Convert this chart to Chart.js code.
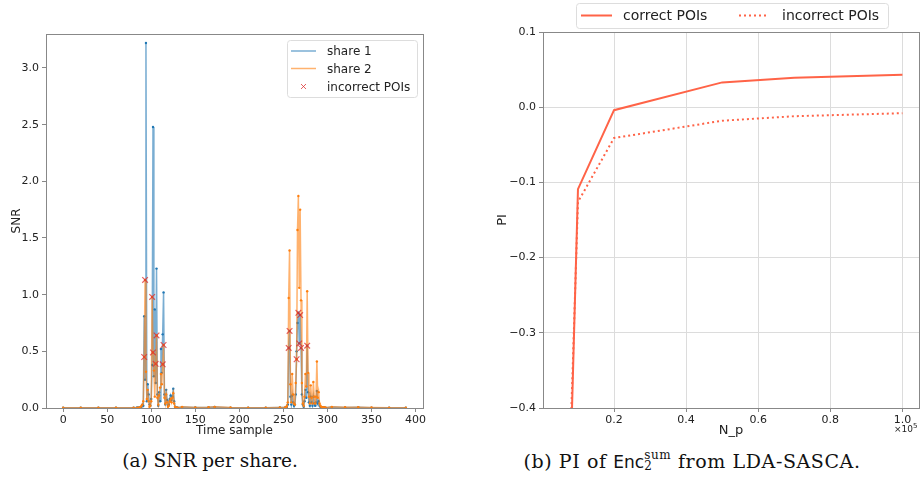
<!DOCTYPE html>
<html>
<head>
<meta charset="utf-8">
<script src="https://cdn.jsdelivr.net/npm/chart.js@4.4.0/dist/chart.umd.min.js"></script>
<style>
  body { margin: 0; width: 923px; height: 485px; background: #fff; overflow: hidden; position: relative; }
  canvas { position: absolute; top: 0; }
  #snr { left: 0; }
  #pi { left: 460px; }
  .cap { position: absolute; top: 450px; font-family: "DejaVu Serif", serif; font-size: 18.5px; color: #111; white-space: nowrap; transform: translateX(-50%); }
  .capb { font-size: 19px; letter-spacing: 0.6px; }
  .enc { font-family: "DejaVu Sans", sans-serif; font-size: 17px; letter-spacing: 0; }
  .ss { display: inline-block; vertical-align: middle; line-height: 11px; font-size: 12px; margin-top: -4px; }
</style>
</head>
<body>
<canvas id="snr" width="460" height="445"></canvas>
<canvas id="pi" width="463" height="445"></canvas>
<div class="cap" style="left:210px">(a) SNR per share.</div>
<div class="cap capb" style="left:692px">(b) PI of <span class="enc">Enc</span><span class="ss">sum<br>2</span> from LDA-SASCA.</div>
<script>
// ---- left: SNR per share ----
const timeSamples = [0, 20, 40, 60, 80, 84,
  86, 87, 88, 89, 90, 91, 92, 93, 94, 95, 96, 97, 98, 99, 100, 101, 102, 103, 104, 105, 106, 107, 108,
  109, 110, 111, 112, 113, 114, 115, 116, 117, 118, 119, 120, 121, 122, 123, 124, 125, 126, 127, 128, 129, 130,
  135, 150, 165, 172, 190, 210, 230, 246,
  252, 253, 254, 255, 256, 257, 258, 259, 260, 261, 262, 263, 264, 265, 266, 267, 268, 269, 270, 271, 272,
  273, 274, 275, 276, 277, 278, 279, 280, 281, 282, 283, 284, 285, 286, 287, 288, 289, 290, 291, 292, 293,
  294, 295, 296, 297, 298,
  305, 320, 335, 350, 370, 389];
const share1 = [0.002, 0.002, 0.002, 0.003, 0.003, 0.004,
  0.004, 0.003, 0.006, 0.01, 0.03, 0.02, 0.81, 0.25, 3.22, 0.06, 0.21, 0.12, 0.03, 0.02, 0.08, 0.38, 2.48, 0.28, 0.87, 0.22, 1.23, 0.12, 0.02,
  0.14, 0.06, 0.52, 0.31, 0.65, 1.02, 0.12, 0.03, 0.16, 0.07, 0.02, 0.03, 0.08, 0.11, 0.07, 0.1, 0.17, 0.06, 0.01, 0.005, 0.004, 0.003,
  0.008, 0.004, 0.006, 0.009, 0.003, 0.002, 0.003, 0.004,
  0.004, 0.006, 0.01, 0.03, 0.53, 0.68, 0.1, 0.03, 0.11, 0.05, 0.02, 0.03, 0.12, 0.5, 0.75, 0.84, 0.57, 0.82, 0.53, 0.12, 0.03,
  0.01, 0.06, 0.16, 0.09, 0.55, 0.14, 0.05, 0.02, 0.1, 0.05, 0.02, 0.1, 0.04, 0.02, 0.05, 0.15, 0.04, 0.06, 0.02, 0.01, 0.005,
  0.004, 0.003, 0.004, 0.003, 0.003,
  0.008, 0.005, 0.006, 0.003, 0.002, 0.002];
const share2 = [0.002, 0.002, 0.003, 0.002, 0.003, 0.003,
  0.003, 0.004, 0.01, 0.02, 0.03, 0.06, 0.45, 1.13, 0.32, 0.08, 0.16, 0.06, 0.01, 0.02, 0.06, 0.98, 0.49, 0.33, 0.1, 0.39, 0.64, 0.09, 0.03,
  0.11, 0.18, 0.3, 0.21, 0.385, 0.556, 0.09, 0.04, 0.12, 0.05, 0.01, 0.02, 0.06, 0.08, 0.05, 0.09, 0.13, 0.04, 0.01, 0.004, 0.003, 0.002,
  0.01, 0.005, 0.007, 0.01, 0.004, 0.003, 0.003, 0.004,
  0.004, 0.008, 0.02, 0.05, 0.97, 1.39, 0.21, 0.05, 0.3, 0.12, 0.04, 0.03, 0.22, 0.43, 1.57, 1.87, 1.06, 1.75, 0.95, 0.22, 0.04,
  0.02, 0.1, 0.3, 0.19, 1.03, 0.31, 0.1, 0.04, 0.2, 0.09, 0.04, 0.23, 0.1, 0.04, 0.1, 0.41, 0.09, 0.14, 0.04, 0.02, 0.01,
  0.005, 0.004, 0.006, 0.004, 0.003,
  0.01, 0.006, 0.007, 0.004, 0.003, 0.002];
const poiTimes = [92, 93, 101, 102, 105, 106, 113, 114, 256, 257, 265, 267, 268, 269, 270, 277];
const poiSnr = [0.45, 1.13, 0.98, 0.49, 0.39, 0.64, 0.385, 0.556, 0.53, 0.68, 0.43, 0.84, 0.57, 0.82, 0.53, 0.55];
const snrXTicks = [0, 50, 100, 150, 200, 250, 300, 350, 400];
const snrYTicks = [0, 0.5, 1.0, 1.5, 2.0, 2.5, 3.0];

// ---- right: PI vs N_p ----
const npValues = [0.05, 0.1, 0.2, 0.5, 0.7, 1.0];
const piCorrect = [-0.99, -0.109, -0.004, 0.033, 0.039, 0.043];
const piIncorrect = [-0.88, -0.126, -0.041, -0.018, -0.012, -0.008];
const npTicks = [0.2, 0.4, 0.6, 0.8, 1.0];

const pts = (xs, ys) => xs.map((x, i) => ({ x: x, y: ys[i] }));
const tickFont = { family: "DejaVu Sans", size: 11 };
const spine = "#888";
const poiColor = "rgba(220,45,45,0.75)";

const frame = {
  id: "frame",
  afterDatasetsDraw(chart) {
    const { ctx, chartArea: a } = chart;
    ctx.save();
    ctx.strokeStyle = spine;
    ctx.lineWidth = 1;
    ctx.strokeRect(Math.round(a.left) + 0.5, Math.round(a.top) + 0.5, Math.round(a.right - a.left), Math.round(a.bottom - a.top));
    ctx.restore();
  }
};

const legendBox = (ctx, x, y, w, h) => {
  ctx.save();
  ctx.fillStyle = "rgba(255,255,255,0.85)";
  ctx.strokeStyle = "#ddd";
  ctx.lineWidth = 1;
  ctx.beginPath();
  ctx.roundRect(x + 0.5, y + 0.5, w, h, 3);
  ctx.fill();
  ctx.stroke();
  ctx.restore();
};

const snrLegend = {
  id: "snrLegend",
  afterDraw(chart) {
    const ctx = chart.ctx;
    const ds = chart.data.datasets;
    legendBox(ctx, 287, 40, 130, 57);
    ctx.save();
    ctx.font = "12px 'DejaVu Sans'";
    ctx.fillStyle = "#222";
    ctx.textBaseline = "middle";
    const rows = [51, 68.5, 86.5];
    [ds[0], ds[1], ds[2]].forEach((d, i) => {
      const y = rows[i];
      ctx.strokeStyle = d.borderColor;
      if (i < 2) {
        ctx.lineWidth = 1.5;
        ctx.beginPath(); ctx.moveTo(291, y); ctx.lineTo(316, y); ctx.stroke();
      } else {
        ctx.lineWidth = 1;
        ctx.beginPath();
        ctx.moveTo(301, y - 2.5); ctx.lineTo(306, y + 2.5);
        ctx.moveTo(306, y - 2.5); ctx.lineTo(301, y + 2.5);
        ctx.stroke();
      }
      ctx.fillText(d.label, 327, y + 1);
    });
    ctx.restore();
  }
};

new Chart(document.getElementById("snr"), {
  type: "line",
  data: {
    datasets: [
      {
        label: "share 1",
        data: pts(timeSamples, share1),
        borderColor: "rgba(31,119,180,0.6)",
        backgroundColor: "#1f77b4",
        borderWidth: 1.5,
        pointRadius: 1.2,
        pointBorderWidth: 0,
        order: 3
      },
      {
        label: "share 2",
        data: pts(timeSamples, share2),
        borderColor: "rgba(255,127,14,0.6)",
        backgroundColor: "#ff7f0e",
        borderWidth: 1.5,
        pointRadius: 1.2,
        pointBorderWidth: 0,
        order: 2
      },
      {
        label: "incorrect POIs",
        data: pts(poiTimes, poiSnr),
        showLine: false,
        pointStyle: "crossRot",
        pointRadius: 4,
        borderColor: poiColor,
        backgroundColor: poiColor,
        pointBorderWidth: 1.2,
        order: 1
      }
    ]
  },
  options: {
    responsive: false,
    animation: false,
    layout: { padding: { top: 34, right: 37, left: 0, bottom: 0 } },
    plugins: { legend: { display: false }, tooltip: { enabled: false } },
    scales: {
      x: {
        type: "linear",
        min: -19.45,
        max: 408.45,
        afterBuildTicks: (s) => { s.ticks = snrXTicks.map(v => ({ value: v })); },
        afterFit: (s) => { s.height = 37; },
        grid: { drawOnChartArea: false, tickLength: 4, tickColor: spine },
        border: { display: false },
        ticks: { font: tickFont, color: "#222", padding: 2, maxRotation: 0 },
        title: { display: true, text: "Time sample", font: { family: "DejaVu Sans", size: 12 }, color: "#222", padding: { top: 0, bottom: 7 } }
      },
      y: {
        min: 0,
        max: 3.3,
        afterBuildTicks: (s) => { s.ticks = snrYTicks.map(v => ({ value: v })); },
        afterFit: (s) => { s.width = 46; },
        grid: { drawOnChartArea: false, tickLength: 4, tickColor: spine },
        border: { display: false },
        ticks: { font: tickFont, color: "#222", padding: 3, callback: (v) => v.toFixed(1) },
        title: { display: true, text: "SNR", font: { family: "DejaVu Sans", size: 12 }, color: "#222", padding: { top: 10, bottom: 0 } }
      }
    }
  },
  plugins: [frame, snrLegend]
});

const piLegend = {
  id: "piLegend",
  afterDraw(chart) {
    const ctx = chart.ctx;
    const ds = chart.data.datasets;
    legendBox(ctx, 116, 3, 312, 25);
    ctx.save();
    ctx.font = "14px 'DejaVu Sans'";
    ctx.fillStyle = "#222";
    ctx.textBaseline = "middle";
    const y = 15.5;
    const items = [[121, 152, 163], [279, 308, 322]];
    items.forEach((p, i) => {
      const d = ds[i];
      ctx.strokeStyle = d.borderColor;
      ctx.lineWidth = d.borderWidth;
      ctx.setLineDash(d.borderDash || []);
      ctx.beginPath(); ctx.moveTo(p[0], y); ctx.lineTo(p[1], y); ctx.stroke();
      ctx.setLineDash([]);
      ctx.fillText(d.label, p[2], y + 1);
    });
    // axis offset text
    ctx.font = "9px 'DejaVu Sans'";
    ctx.textAlign = "right";
    ctx.fillText("\u00d710", 453, 430);
    ctx.font = "7px 'DejaVu Sans'";
    ctx.textAlign = "left";
    ctx.fillText("5", 453, 426);
    ctx.restore();
  }
};

const piTick = (v) => {
  if (Math.abs(v) < 1e-9) return "0.0";
  return v.toFixed(1).replace("-", "\u2212");
};

new Chart(document.getElementById("pi"), {
  type: "line",
  data: {
    datasets: [
      {
        label: "correct POIs",
        data: pts(npValues, piCorrect),
        borderColor: "#ff6347",
        borderWidth: 2,
        pointRadius: 0,
        tension: 0
      },
      {
        label: "incorrect POIs",
        data: pts(npValues, piIncorrect),
        borderColor: "#ff6347",
        borderWidth: 2,
        borderDash: [2, 3],
        pointRadius: 0,
        tension: 0
      }
    ]
  },
  options: {
    responsive: false,
    animation: false,
    layout: { padding: { top: 32, right: 4, left: 0, bottom: 0 } },
    plugins: { legend: { display: false }, tooltip: { enabled: false } },
    scales: {
      x: {
        type: "linear",
        min: 0.003,
        max: 1.046,
        afterBuildTicks: (s) => { s.ticks = npTicks.map(v => ({ value: v })); },
        afterFit: (s) => { s.height = 37; },
        grid: { color: "#dcdcdc", tickLength: 4, tickColor: spine },
        border: { display: false },
        ticks: { font: tickFont, color: "#222", padding: 2, maxRotation: 0, callback: (v) => v.toFixed(1) },
        title: { display: true, text: "N_p", font: { family: "DejaVu Sans", size: 13 }, color: "#222", padding: { top: 0, bottom: 7 } }
      },
      y: {
        min: -0.4,
        max: 0.1,
        ticks: { stepSize: 0.1, font: tickFont, color: "#222", padding: 3, callback: piTick },
        afterFit: (s) => { s.width = 83; },
        grid: { color: "#dcdcdc", tickLength: 4, tickColor: spine },
        border: { display: false },
        title: { display: true, text: "PI", font: { family: "DejaVu Sans", size: 13 }, color: "#222", padding: { top: 35, bottom: 0 } }
      }
    }
  },
  plugins: [frame, piLegend]
});
</script>
</body>
</html>
